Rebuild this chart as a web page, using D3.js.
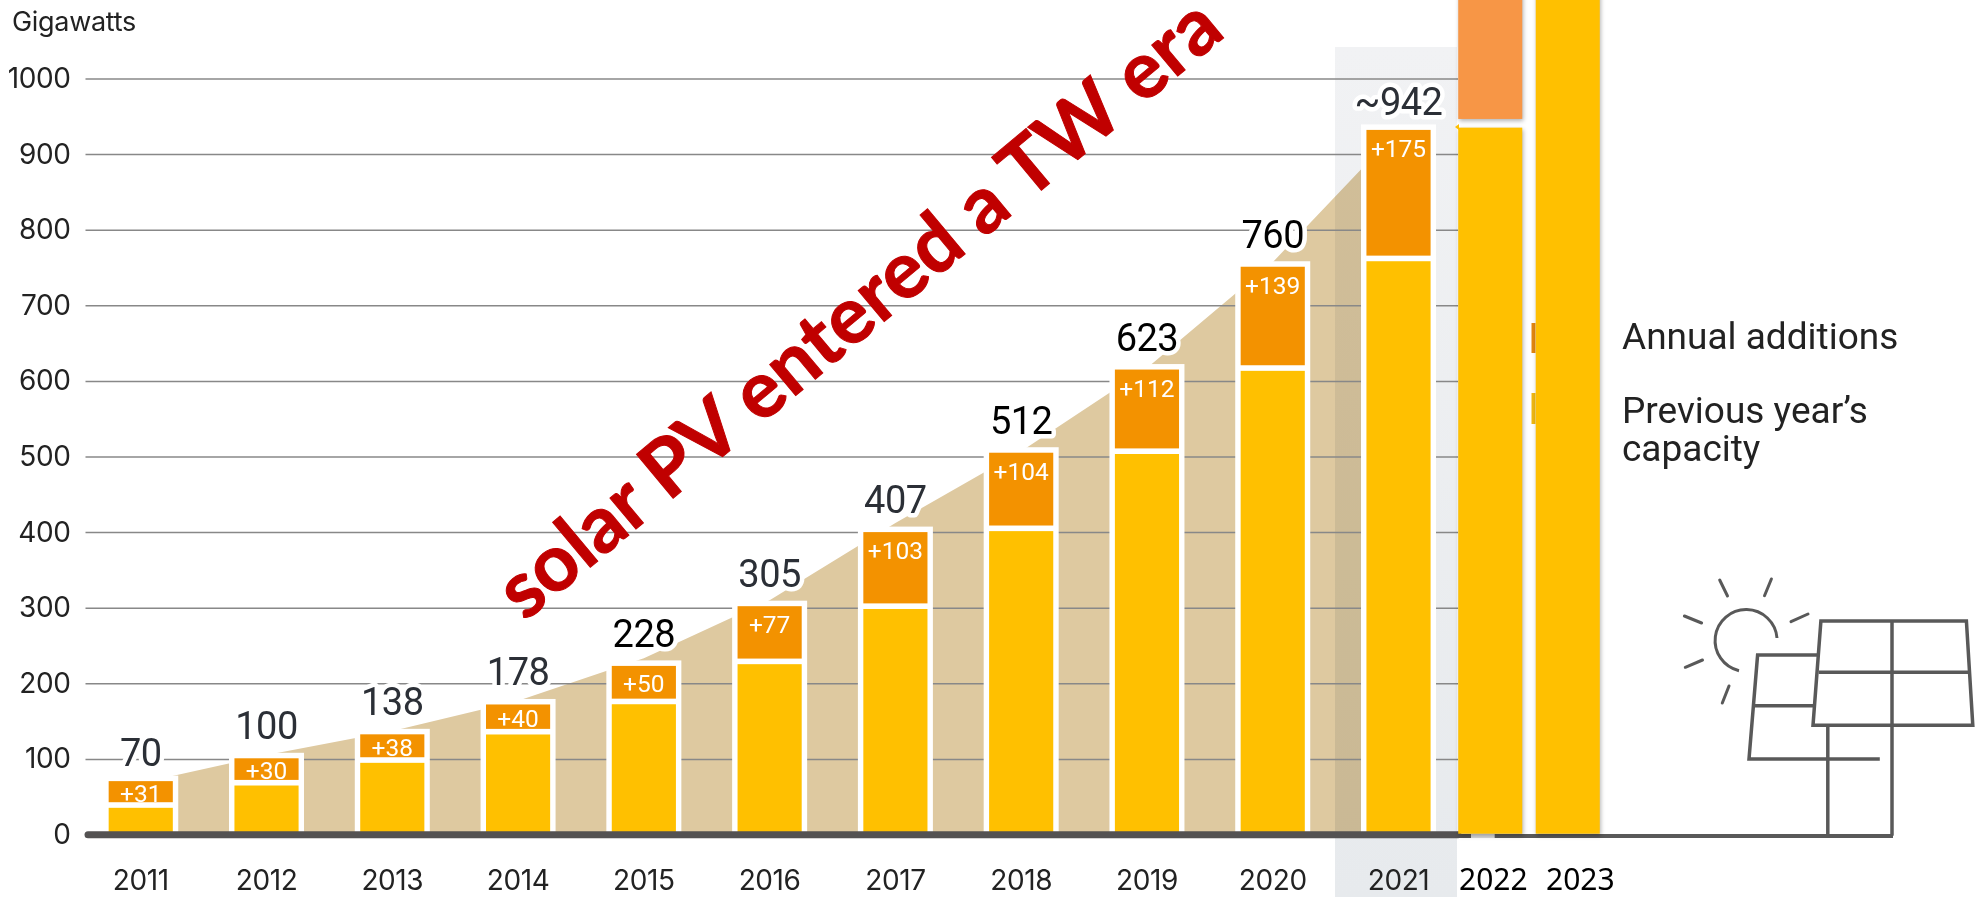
<!DOCTYPE html>
<html>
<head>
<meta charset="utf-8">
<script src="https://cdn.jsdelivr.net/npm/d3@7"></script>
<style>
  html, body { margin: 0; background: #fff; }
  svg { display: block; }
  .tick-text text { font-family: Inter, sans-serif; font-size: 28px; letter-spacing: -0.4px; fill: #222; }
</style>
</head>
<body>
<svg id="chart" width="1975" height="897"></svg>
<script>
const years = [2011, 2012, 2013, 2014, 2015, 2016, 2017, 2018, 2019, 2020, 2021];
const previousCapacity = [39, 68.5, 98.5, 136, 176, 229, 302, 405, 507, 617, 762];
const barTops = [70.6, 100.8, 132.5, 172, 223, 302, 400, 505, 615, 751, 932];
const additionLabels = ["+31", "+30", "+38", "+40", "+50", "+77", "+103", "+104", "+112", "+139", "+175"];
const totalLabels = ["70", "100", "138", "178", "228", "305", "407", "512", "623", "760", "~942"];
const darkLabels = ["228", "512", "623", "760"];
const trendValues = [68, 105, 137, 177, 233, 310, 412, 507, 617, 757, 932];
const yTicks = [0, 100, 200, 300, 400, 500, 600, 700, 800, 900, 1000];
const extraYears = [2022, 2023];
const extraCapacity = [935, 1250];
const extraAdditionFrom = 946.5;
const extraAdditionTo = 1250;

const YELLOW = "#FFC000", ORANGE = "#F39200", TAN = "#DEC9A0", GREY = "#595959";

const svg = d3.select("#chart");
const y = d3.scaleLinear().domain([0, 1000]).range([834.5, 78.5]);
const x = d3.scaleBand().domain(years).range([77.85, 1461.4]).paddingInner(0.49).paddingOuter(0.245);
const xExtra = d3.scaleBand().domain(extraYears).range([1451.5, 1606.5]).paddingInner(0.174).paddingOuter(0.087);
const cx = yr => x(yr) + x.bandwidth() / 2;

const rows = years.map((year, i) => ({
  year, prev: previousCapacity[i], top: barTops[i],
  add: additionLabels[i], total: totalLabels[i], trend: trendValues[i]
}));

const grad = svg.append("defs").append("linearGradient")
  .attr("id", "bandFill").attr("x1", 0).attr("x2", 0).attr("y1", 0).attr("y2", 1);
grad.append("stop").attr("offset", 0).attr("stop-color", "#F1F2F4");
grad.append("stop").attr("offset", 1).attr("stop-color", "#E7EAED");

// tan wedge behind the bars
svg.append("path").datum(rows)
  .attr("fill", TAN)
  .attr("d", d3.area().x(d => cx(d.year)).y0(y(0)).y1(d => y(d.trend)));

// 2021 highlight
svg.append("rect")
  .attr("x", 1335).attr("y", 47).attr("width", 122).attr("height", 850)
  .attr("fill", "url(#bandFill)").style("mix-blend-mode", "multiply");

// y axis + gridlines
const gridLeft = 85.5, gridRight = 1458;
const yAxis = svg.append("g").attr("class", "tick-text")
  .attr("transform", `translate(${gridLeft},0)`)
  .call(d3.axisLeft(y).tickValues(yTicks).tickFormat(d3.format("d")).tickSize(-(gridRight - gridLeft)).tickPadding(15));
yAxis.select(".domain").remove();
yAxis.selectAll("line").attr("stroke", "#888").attr("stroke-width", 1.5);

// white frames, then the stacked bars
const bars = svg.append("g").selectAll("g").data(rows).join("g");
bars.append("rect")
  .attr("x", d => cx(d.year) - 37.5).attr("width", 75)
  .attr("y", d => y(d.top) - 5.5)
  .attr("height", d => y(0) - y(d.top) + 5.5)
  .attr("fill", "#fff");
bars.append("rect")
  .attr("x", d => x(d.year)).attr("width", x.bandwidth())
  .attr("y", d => y(d.prev) + 2.8)
  .attr("height", d => y(0) - y(d.prev) - 2.8)
  .attr("fill", YELLOW);
bars.append("rect")
  .attr("x", d => x(d.year)).attr("width", x.bandwidth())
  .attr("y", d => y(d.top))
  .attr("height", d => y(d.prev) - y(d.top) - 2.8)
  .attr("fill", ORANGE);
bars.append("text")
  .attr("x", d => cx(d.year))
  .attr("y", d => Math.min(y(d.top) + 27, (y(d.top) + y(d.prev)) / 2 + 8.5))
  .attr("text-anchor", "middle")
  .attr("font-family", "Roboto, sans-serif").attr("font-size", 24.5)
  .attr("fill", "#fff")
  .text(d => d.add);
bars.append("text")
  .attr("x", d => cx(d.year))
  .attr("y", d => y(d.top) - (d.year === 2011 || d.year === 2021 ? 15 : 19))
  .attr("text-anchor", "middle")
  .attr("font-family", "Roboto, sans-serif").attr("font-size", 38)
  .attr("letter-spacing", -0.5)
  .attr("fill", d => darkLabels.includes(d.total) ? "#000" : "#2b2f36")
  .attr("stroke", "#fff").attr("stroke-width", 9).attr("stroke-linejoin", "round")
  .style("paint-order", "stroke")
  .text(d => d.total);

// baseline
svg.append("line").attr("x1", 88).attr("x2", 1458).attr("y1", 834.7).attr("y2", 834.7)
  .attr("stroke", "#545252").attr("stroke-width", 7).attr("stroke-linecap", "round");
svg.append("line").attr("x1", 1458).attr("x2", 1471).attr("y1", 836).attr("y2", 836)
  .attr("stroke", "#545252").attr("stroke-width", 4);
svg.append("line").attr("x1", 1471).attr("x2", 1494.6).attr("y1", 836).attr("y2", 836)
  .attr("stroke", "#d8d8d8").attr("stroke-width", 4);
svg.append("line").attr("x1", 1494.6).attr("x2", 1893).attr("y1", 836).attr("y2", 836)
  .attr("stroke", GREY).attr("stroke-width", 4);

// x axis labels
const xAxis = svg.append("g").attr("class", "tick-text")
  .attr("transform", `translate(0,${y(0)})`)
  .call(d3.axisBottom(x).tickSize(0).tickPadding(36));
xAxis.select(".domain").remove();

svg.append("g").selectAll("text").data(extraYears).join("text")
  .attr("x", (d, i) => i === 0 ? 1459 : 1546)
  .attr("y", 889.5)
  .attr("font-family", "'Noto Sans', sans-serif").attr("font-size", 30).attr("fill", "#000")
  .text(d => d);

// leftovers of the covered legend swatches
svg.append("rect").attr("x", 1531.5).attr("y", 323).attr("width", 4).attr("height", 30).attr("fill", "#E2860F");
svg.append("rect").attr("x", 1531.5).attr("y", 393).attr("width", 4).attr("height", 31).attr("fill", "#EFB712");

// pasted bars for 2022 and 2023
const shadow = "drop-shadow(1px 2px 2px rgba(0,0,0,0.3))";
svg.append("rect")
  .attr("x", xExtra(2022)).attr("width", xExtra.bandwidth())
  .attr("y", y(extraAdditionTo)).attr("height", y(extraAdditionFrom) - y(extraAdditionTo))
  .attr("fill", "#F79646").style("filter", shadow);
svg.append("path").attr("d", "M1455,127 L1459,124 L1459,130 Z").attr("fill", YELLOW);
svg.append("g").selectAll("rect").data(extraYears).join("rect")
  .attr("x", d => xExtra(d)).attr("width", xExtra.bandwidth())
  .attr("y", (d, i) => y(extraCapacity[i]))
  .attr("height", (d, i) => y(0) - y(extraCapacity[i]) - 0.8)
  .attr("fill", YELLOW).style("filter", shadow);

// legend text
const legend = svg.append("g").attr("font-family", "Roboto, sans-serif").attr("font-size", 37).attr("fill", "#222");
legend.append("text").attr("x", 1622).attr("y", 349).text("Annual additions");
legend.append("text").attr("x", 1622).attr("y", 423).text("Previous year\u2019s");
legend.append("text").attr("x", 1622).attr("y", 461).text("capacity");

svg.append("text").attr("x", 12).attr("y", 31)
  .attr("font-family", "Inter, sans-serif").attr("font-size", 27).attr("letter-spacing", -0.3).attr("fill", "#222")
  .text("Gigawatts");

// solar panel icon
const icon = svg.append("g").attr("fill", "none").attr("stroke", GREY).attr("stroke-width", 3);
icon.append("path").attr("d", "M1777,638 A31,31 0 1 0 1739,670.7");
[
  [1719.7, 580, 1727.5, 596], [1771.4, 579, 1764.5, 595.7], [1808, 614, 1791, 621.7],
  [1684.4, 616, 1701.6, 623], [1685.3, 667.3, 1702.5, 660], [1729, 686, 1722.3, 703]
].forEach(r => icon.append("line").attr("x1", r[0]).attr("y1", r[1]).attr("x2", r[2]).attr("y2", r[3]).attr("stroke-linecap", "round"));
const panels = svg.append("g").attr("fill", "none").attr("stroke", GREY).attr("stroke-width", 3.5);
panels.append("path").attr("d", "M1820.9,621 H1966.4 L1972.8,725.3 H1813 Z");
panels.append("path").attr("d", "M1892,621 V835.7");
panels.append("path").attr("d", "M1818.7,672.3 H1970.7");
panels.append("path").attr("d", "M1818.7,655 H1757.6 L1749,759 H1879.8");
panels.append("path").attr("d", "M1754,705.7 H1815.7");
panels.append("path").attr("d", "M1827.8,724.3 V835.7");

// big red overlay
svg.append("text")
  .attr("transform", "translate(525,622) rotate(-39.9)")
  .attr("font-family", "Lato, sans-serif").attr("font-weight", 700).attr("font-size", 79)
  .attr("fill", "#C00000").attr("stroke", "#C00000").attr("stroke-width", 1)
  .text("solar PV entered a TW era");
</script>
</body>
</html>
